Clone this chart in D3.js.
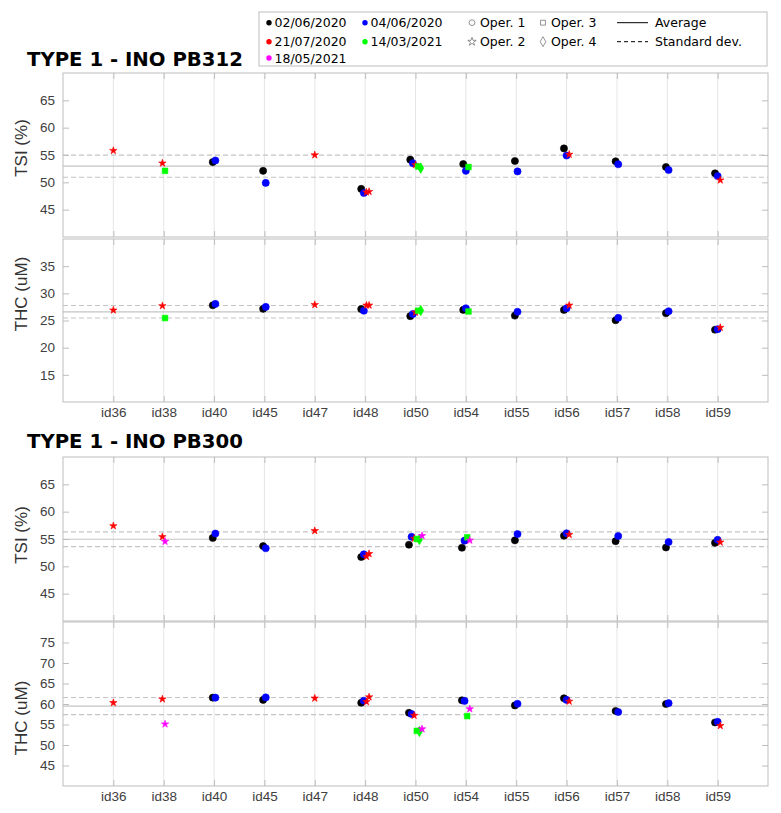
<!DOCTYPE html>
<html>
<head>
<meta charset="utf-8">
<script src="https://cdn.jsdelivr.net/npm/d3@7"></script>
<style>
  body { margin: 0; background: #fff; }
  svg { display: block; }
</style>
</head>
<body>
<div id="chart"></div>
<script>

var categories = ['id36', 'id38', 'id40', 'id45', 'id47', 'id48', 'id50', 'id54', 'id55', 'id56', 'id57', 'id58', 'id59'];
var dates = ['02/06/2020', '04/06/2020', '21/07/2020', '14/03/2021', '18/05/2021'];
var operators = ['Oper. 1', 'Oper. 2', 'Oper. 3', 'Oper. 4'];

// rows: [category, date index, operator index, value]
var tsi312 = [
  ['id36', 2, 1, 55.8],
  ['id38', 2, 1, 53.5], ['id38', 3, 2, 52.1],
  ['id40', 0, 0, 53.7], ['id40', 1, 0, 54.0],
  ['id45', 0, 0, 52.1], ['id45', 1, 0, 49.9],
  ['id47', 2, 1, 55.0],
  ['id48', 0, 0, 48.8], ['id48', 1, 0, 48.05], ['id48', 2, 1, 48.2], ['id48', 2, 1, 48.3],
  ['id50', 0, 0, 54.15], ['id50', 1, 0, 53.5], ['id50', 2, 1, 53.2], ['id50', 3, 2, 52.9], ['id50', 3, 3, 52.6],
  ['id54', 0, 0, 53.35], ['id54', 1, 0, 52.1], ['id54', 3, 2, 52.8],
  ['id55', 0, 0, 53.9], ['id55', 1, 0, 52.0],
  ['id56', 0, 0, 56.2], ['id56', 1, 0, 54.9], ['id56', 2, 1, 55.1],
  ['id57', 0, 0, 53.85], ['id57', 1, 0, 53.3],
  ['id58', 0, 0, 52.8], ['id58', 1, 0, 52.25],
  ['id59', 0, 0, 51.65], ['id59', 1, 0, 51.15], ['id59', 2, 1, 50.4]
];

var thc312 = [
  ['id36', 2, 1, 26.9],
  ['id38', 2, 1, 27.7], ['id38', 3, 2, 25.45],
  ['id40', 0, 0, 27.8], ['id40', 1, 0, 28.05],
  ['id45', 0, 0, 27.15], ['id45', 1, 0, 27.5],
  ['id47', 2, 1, 27.9],
  ['id48', 0, 0, 27.1], ['id48', 1, 0, 26.8], ['id48', 2, 1, 27.8], ['id48', 2, 1, 27.8],
  ['id50', 0, 0, 25.8], ['id50', 1, 0, 26.2], ['id50', 2, 1, 26.5], ['id50', 3, 2, 26.8], ['id50', 3, 3, 26.85],
  ['id54', 0, 0, 26.95], ['id54', 1, 0, 27.25], ['id54', 3, 2, 26.65],
  ['id55', 0, 0, 25.9], ['id55', 1, 0, 26.6],
  ['id56', 0, 0, 26.95], ['id56', 1, 0, 27.25], ['id56', 2, 1, 27.8],
  ['id57', 0, 0, 25.05], ['id57', 1, 0, 25.5],
  ['id58', 0, 0, 26.35], ['id58', 1, 0, 26.7],
  ['id59', 0, 0, 23.3], ['id59', 1, 0, 23.4], ['id59', 2, 1, 23.7]
];

var tsi300 = [
  ['id36', 2, 1, 57.4],
  ['id38', 2, 1, 55.4], ['id38', 4, 1, 54.55],
  ['id40', 0, 0, 55.2], ['id40', 1, 0, 56.0],
  ['id45', 0, 0, 53.7], ['id45', 1, 0, 53.3],
  ['id47', 2, 1, 56.5],
  ['id48', 0, 0, 51.7], ['id48', 1, 0, 52.2], ['id48', 2, 1, 51.8], ['id48', 2, 1, 52.3],
  ['id50', 0, 0, 53.95], ['id50', 1, 0, 55.4], ['id50', 2, 1, 55.1], ['id50', 3, 2, 55.0], ['id50', 3, 3, 54.9], ['id50', 4, 1, 55.6],
  ['id54', 0, 0, 53.4], ['id54', 1, 0, 54.7], ['id54', 3, 2, 55.3], ['id54', 4, 1, 54.75],
  ['id55', 0, 0, 54.75], ['id55', 1, 0, 55.9],
  ['id56', 0, 0, 55.6], ['id56', 1, 0, 56.05], ['id56', 2, 1, 55.8],
  ['id57', 0, 0, 54.6], ['id57', 1, 0, 55.55],
  ['id58', 0, 0, 53.45], ['id58', 1, 0, 54.45],
  ['id59', 0, 0, 54.3], ['id59', 1, 0, 54.85], ['id59', 2, 1, 54.4]
];

var thc300 = [
  ['id36', 2, 1, 60.3],
  ['id38', 2, 1, 61.2], ['id38', 4, 1, 55.1],
  ['id40', 0, 0, 61.55], ['id40', 1, 0, 61.55],
  ['id45', 0, 0, 61.0], ['id45', 1, 0, 61.6],
  ['id47', 2, 1, 61.4],
  ['id48', 0, 0, 60.3], ['id48', 1, 0, 60.8], ['id48', 2, 1, 60.55], ['id48', 2, 1, 61.7],
  ['id50', 0, 0, 57.85], ['id50', 1, 0, 57.55], ['id50', 2, 1, 57.2], ['id50', 3, 2, 53.45], ['id50', 3, 3, 53.3], ['id50', 4, 1, 53.9],
  ['id54', 0, 0, 60.9], ['id54', 1, 0, 60.75], ['id54', 3, 2, 57.05], ['id54', 4, 1, 58.8],
  ['id55', 0, 0, 59.65], ['id55', 1, 0, 60.05],
  ['id56', 0, 0, 61.4], ['id56', 1, 0, 61.0], ['id56', 2, 1, 60.65],
  ['id57', 0, 0, 58.3], ['id57', 1, 0, 58.05],
  ['id58', 0, 0, 60.0], ['id58', 1, 0, 60.2],
  ['id59', 0, 0, 55.5], ['id59', 1, 0, 55.65], ['id59', 2, 1, 54.7]
];

// average and standard deviation per panel
var averages = [52.95, 26.6, 54.95, 59.5];
var stdDevs = [2.03, 1.15, 1.35, 2.1];

var yDomains = [[40, 70], [10, 40], [40, 70], [40, 80]];
var yTicks = [[45, 50, 55, 60, 65], [15, 20, 25, 30, 35], [45, 50, 55, 60, 65], [45, 50, 55, 60, 65, 70, 75]];
var yLabels = ['TSI (%)', 'THC (uM)', 'TSI (%)', 'THC (uM)'];
var titles = ['TYPE 1 - INO PB312', 'TYPE 1 - INO PB300'];

// styles
var dateColors = ['#000000', '#0000ff', '#ff0000', '#00ff00', '#ff00ff'];
var operSymbols = [d3.symbolCircle, d3.symbolStar, d3.symbolSquare, d3.symbolDiamond];
var operSizes = [40, 17, 32, 32];

var width = 781;
var height = 813;
var left = 63, right = 768;

var panels = [
  { data: tsi312, top: 73, bottom: 237, labelY: 148, showX: false },
  { data: thc312, top: 239, bottom: 402, labelY: 294, showX: true },
  { data: tsi300, top: 457, bottom: 621, labelY: 535, showX: false },
  { data: thc300, top: 622, bottom: 786, labelY: 718, showX: true }
];

var svg = d3.select('#chart')
  .append('svg')
  .attr('width', width)
  .attr('height', height);

var xScale = d3.scaleLinear()
  .domain([0, categories.length + 1])
  .range([left, right]);

var boxColor = '#bdbdbd';
var tickFont = '"Liberation Sans", Arial, sans-serif';

panels.forEach(function(p, pi) {

  var yScale = d3.scaleLinear()
    .domain(yDomains[pi])
    .range([p.bottom, p.top]);

  var g = svg.append('g');

  // vertical grid
  g.selectAll('.grid')
    .data(categories)
    .enter()
    .append('line')
    .attr('x1', function(d, i) { return xScale(i + 1); })
    .attr('x2', function(d, i) { return xScale(i + 1); })
    .attr('y1', p.top)
    .attr('y2', p.bottom)
    .attr('stroke', '#e6e6e6')
    .attr('stroke-width', 1);

  // average and std lines
  var avg = averages[pi], sd = stdDevs[pi];
  g.append('line')
    .attr('x1', left).attr('x2', right)
    .attr('y1', yScale(avg)).attr('y2', yScale(avg))
    .attr('stroke', '#c4c4c4').attr('stroke-width', 1.2);
  [avg - sd, avg + sd].forEach(function(v) {
    g.append('line')
      .attr('x1', left).attr('x2', right)
      .attr('y1', yScale(v)).attr('y2', yScale(v))
      .attr('stroke', '#c4c4c4').attr('stroke-width', 1.1)
      .attr('stroke-dasharray', '5,3');
  });

  // axes
  var yAxisL = g.append('g')
    .attr('transform', 'translate(' + left + ',0)')
    .call(d3.axisLeft(yScale).tickValues(yTicks[pi]).tickSize(-6).tickPadding(8));
  var yAxisR = g.append('g')
    .attr('transform', 'translate(' + right + ',0)')
    .call(d3.axisRight(yScale).tickValues(yTicks[pi]).tickSize(-6).tickFormat(''));

  var xIdx = categories.map(function(d, i) { return i + 1; });
  var xAxisB = g.append('g')
    .attr('transform', 'translate(0,' + p.bottom + ')')
    .call(d3.axisBottom(xScale).tickValues(xIdx).tickSize(-6).tickPadding(5)
      .tickFormat(function(d) { return p.showX ? categories[d - 1] : ''; }));
  var xAxisT = g.append('g')
    .attr('transform', 'translate(0,' + p.top + ')')
    .call(d3.axisTop(xScale).tickValues(xIdx).tickSize(-6).tickFormat(''));

  [yAxisL, yAxisR, xAxisB, xAxisT].forEach(function(a) {
    a.select('.domain').remove();
    a.selectAll('.tick line').attr('stroke', boxColor);
    a.selectAll('.tick text')
      .attr('fill', '#404040')
      .style('font-family', tickFont)
      .style('font-size', '13.5px');
  });

  // box
  g.append('rect')
    .attr('x', left).attr('y', p.top)
    .attr('width', right - left).attr('height', p.bottom - p.top)
    .attr('fill', 'none')
    .attr('stroke', boxColor)
    .attr('stroke-width', 1);

  // y label
  g.append('text')
    .attr('transform', 'translate(27,' + p.labelY + ') rotate(-90)')
    .attr('text-anchor', 'middle')
    .attr('fill', '#333333')
    .style('font-family', tickFont)
    .style('font-size', '17px')
    .text(yLabels[pi]);

  // spread points sharing a category around its centre
  var counts = {}, seen = {};
  p.data.forEach(function(r) { counts[r[0]] = (counts[r[0]] || 0) + 1; });
  var points = p.data.map(function(r) {
    var k = seen[r[0]] || 0;
    seen[r[0]] = k + 1;
    var off = (k - (counts[r[0]] - 1) / 2) * 0.052;
    return { x: categories.indexOf(r[0]) + 1 + off, y: r[3], date: r[1], oper: r[2] };
  });

  g.selectAll('.pt')
    .data(points)
    .enter()
    .append('path')
    .attr('d', function(d) { return d3.symbol().type(operSymbols[d.oper]).size(operSizes[d.oper])(); })
    .attr('transform', function(d) { return 'translate(' + xScale(d.x) + ',' + yScale(d.y) + ')'; })
    .attr('fill', function(d) { return dateColors[d.date]; })
    .attr('stroke', function(d) { return dateColors[d.date]; })
    .attr('stroke-width', 0.6);
});

// titles
[66, 447.5].forEach(function(y, i) {
  svg.append('text')
    .attr('x', 27)
    .attr('y', y)
    .attr('fill', '#000')
    .style('font-family', '"DejaVu Sans", sans-serif')
    .style('font-weight', 'bold')
    .style('font-size', '19.7px')
    .text(titles[i]);
});

// legend
var legend = svg.append('g');
legend.append('rect')
  .attr('x', 259).attr('y', 12)
  .attr('width', 508).attr('height', 54)
  .attr('fill', '#fff')
  .attr('stroke', '#bdbdbd')
  .attr('stroke-width', 1);

var legFont = '"DejaVu Sans", sans-serif';
var rowY = [22.7, 41.7, 58];
var datePos = [[269, rowY[0]], [365, rowY[0]], [269, rowY[1]], [365, rowY[1]], [269, rowY[2]]];

dates.forEach(function(d, i) {
  legend.append('circle')
    .attr('cx', datePos[i][0]).attr('cy', datePos[i][1])
    .attr('r', 2.7)
    .attr('fill', dateColors[i]);
  legend.append('text')
    .attr('x', datePos[i][0] + 5.5).attr('y', datePos[i][1] + 4.5)
    .style('font-family', legFont).style('font-size', '12.5px')
    .attr('fill', '#000')
    .text(d);
});

var operPos = [[472, rowY[0]], [472, rowY[1]], [543, rowY[0]], [543, rowY[1]]];
var legSizes = [26, 22, 24, 28];
operators.forEach(function(o, i) {
  legend.append('path')
    .attr('d', d3.symbol().type(operSymbols[i]).size(legSizes[i])())
    .attr('transform', 'translate(' + operPos[i][0] + ',' + operPos[i][1] + ')')
    .attr('fill', 'none')
    .attr('stroke', '#666')
    .attr('stroke-width', 0.7);
  legend.append('text')
    .attr('x', operPos[i][0] + 8).attr('y', operPos[i][1] + 4.5)
    .style('font-family', legFont).style('font-size', '12.5px')
    .attr('fill', '#000')
    .text(o);
});

legend.append('line')
  .attr('x1', 617).attr('x2', 648)
  .attr('y1', rowY[0]).attr('y2', rowY[0])
  .attr('stroke', '#000').attr('stroke-width', 1);
legend.append('text')
  .attr('x', 655).attr('y', rowY[0] + 4.5)
  .style('font-family', legFont).style('font-size', '12.5px')
  .text('Average');
legend.append('line')
  .attr('x1', 617).attr('x2', 648)
  .attr('y1', rowY[1]).attr('y2', rowY[1])
  .attr('stroke', '#000').attr('stroke-width', 1)
  .attr('stroke-dasharray', '4,3');
legend.append('text')
  .attr('x', 655).attr('y', rowY[1] + 4.5)
  .style('font-family', legFont).style('font-size', '12.5px')
  .text('Standard dev.');

</script>
</body>
</html>
